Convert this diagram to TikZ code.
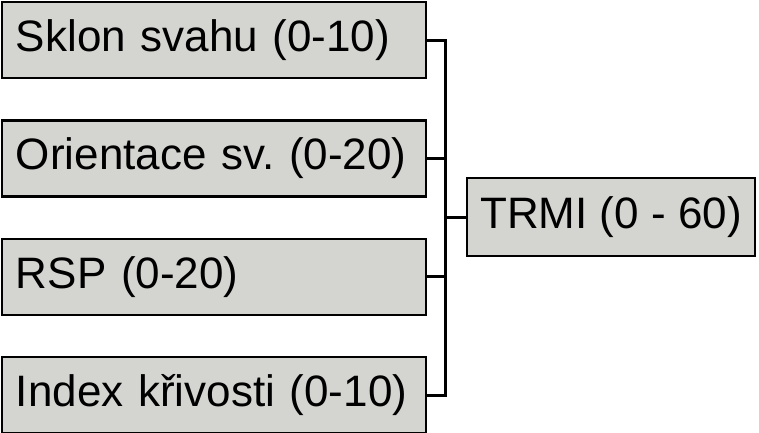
\documentclass[tikz,border=0pt]{standalone}
\usepackage{fontspec}
\setmainfont{Liberation Sans}
\usepackage{tikz}
\usetikzlibrary{positioning, calc}
\definecolor{boxgray}{RGB}{212,212,208}
\tikzset{
  factorbox/.style={draw=black, fill=boxgray, line width=2.4pt, minimum height=76pt,
      text width=396pt, inner xsep=14pt, align=left, font=\fontsize{44}{50}\selectfont\frenchspacing},
  resultbox/.style={draw=black, fill=boxgray, line width=2.4pt, minimum height=78pt,
      minimum width=288pt, text centered, font=\fontsize{44}{50}\selectfont},
  link/.style={line width=3pt, black},
}

\begin{document}
\begin{tikzpicture}[x=1pt, y=-1pt]
  \useasboundingbox (0,0) rectangle (759,432);
  \node[factorbox] (sklon) at (214,40) {Sklon svahu (0-10)};
  \node[factorbox, below=40pt of sklon] (orient) {Orientace sv. (0-20)};
  \node[factorbox, below=40pt of orient] (rsp) {RSP (0-20)};
  \node[factorbox, below=40pt of rsp] (index) {Index křivosti (0-10)};
  \node[resultbox] (trmi) at (611,217) {TRMI (0 - 60)};
  \coordinate (jn) at (445,217);
  \draw[link] (sklon.east) -| (jn) |- (index.east);
  \draw[link] (orient.east) -- (orient.east -| jn);
  \draw[link] (rsp.east) -- (rsp.east -| jn);
  \draw[link] (jn) -- (trmi.west);
\end{tikzpicture}
\end{document}
